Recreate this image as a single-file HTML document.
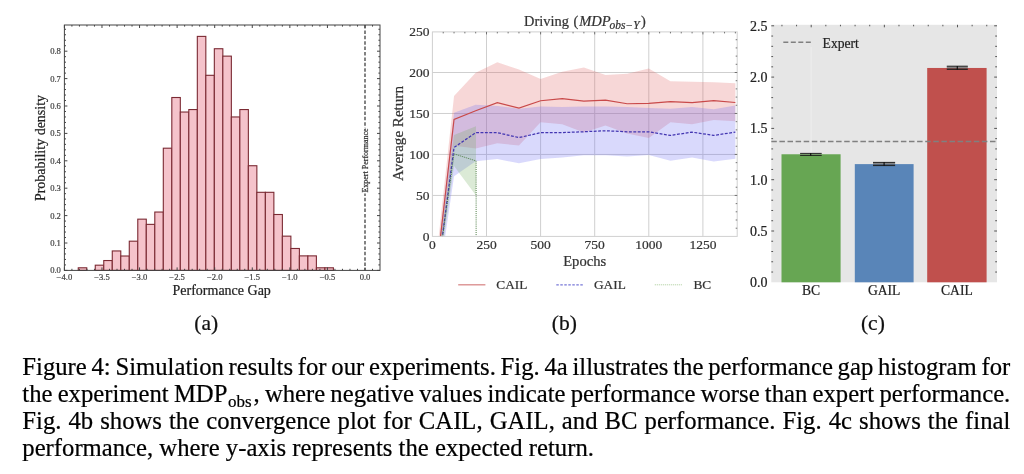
<!DOCTYPE html>
<html><head><meta charset="utf-8"><style>
html,body{margin:0;padding:0;background:#fff;}
body{width:1024px;height:474px;overflow:hidden;position:relative;}
svg{position:absolute;left:0;top:0;}
body>*{filter:blur(0.35px);}
#capbox{position:absolute;left:22.3px;top:0;width:988px;}
.cap{position:absolute;left:0;width:988px;font-family:"Liberation Serif",serif;font-size:24.7px;line-height:30px;color:#000;-webkit-text-stroke:0.22px #000;white-space:nowrap;text-align:justify;text-align-last:justify;word-spacing:-2.5px;}
.cap.last{text-align:left;text-align-last:left;word-spacing:0;}
.cap sub{font-size:17px;vertical-align:baseline;position:relative;top:5px;line-height:0;margin-left:0.5px;margin-right:2px;}
</style></head><body>
<svg width="1024" height="474" viewBox="0 0 1024 474">
<g>
<rect x="78.25" y="267.80" width="8.51" height="2.60" fill="#f5c3cb" stroke="#7b2a33" stroke-width="1.1"/>
<rect x="95.26" y="265.19" width="8.51" height="5.21" fill="#f5c3cb" stroke="#7b2a33" stroke-width="1.1"/>
<rect x="103.77" y="260.54" width="8.51" height="9.86" fill="#f5c3cb" stroke="#7b2a33" stroke-width="1.1"/>
<rect x="112.27" y="250.95" width="8.51" height="19.45" fill="#f5c3cb" stroke="#7b2a33" stroke-width="1.1"/>
<rect x="120.78" y="256.01" width="8.51" height="14.38" fill="#f5c3cb" stroke="#7b2a33" stroke-width="1.1"/>
<rect x="129.28" y="241.19" width="8.51" height="29.21" fill="#f5c3cb" stroke="#7b2a33" stroke-width="1.1"/>
<rect x="137.78" y="219.16" width="8.51" height="51.24" fill="#f5c3cb" stroke="#7b2a33" stroke-width="1.1"/>
<rect x="146.29" y="224.37" width="8.51" height="46.03" fill="#f5c3cb" stroke="#7b2a33" stroke-width="1.1"/>
<rect x="154.80" y="212.04" width="8.51" height="58.36" fill="#f5c3cb" stroke="#7b2a33" stroke-width="1.1"/>
<rect x="163.30" y="148.20" width="8.51" height="122.20" fill="#f5c3cb" stroke="#7b2a33" stroke-width="1.1"/>
<rect x="171.81" y="97.51" width="8.51" height="172.89" fill="#f5c3cb" stroke="#7b2a33" stroke-width="1.1"/>
<rect x="180.31" y="112.03" width="8.51" height="158.37" fill="#f5c3cb" stroke="#7b2a33" stroke-width="1.1"/>
<rect x="188.81" y="109.56" width="8.51" height="160.84" fill="#f5c3cb" stroke="#7b2a33" stroke-width="1.1"/>
<rect x="197.32" y="36.40" width="8.51" height="234.00" fill="#f5c3cb" stroke="#7b2a33" stroke-width="1.1"/>
<rect x="205.83" y="75.31" width="8.51" height="195.09" fill="#f5c3cb" stroke="#7b2a33" stroke-width="1.1"/>
<rect x="214.33" y="48.73" width="8.51" height="221.67" fill="#f5c3cb" stroke="#7b2a33" stroke-width="1.1"/>
<rect x="222.84" y="56.13" width="8.51" height="214.27" fill="#f5c3cb" stroke="#7b2a33" stroke-width="1.1"/>
<rect x="231.34" y="116.96" width="8.51" height="153.44" fill="#f5c3cb" stroke="#7b2a33" stroke-width="1.1"/>
<rect x="239.85" y="109.56" width="8.51" height="160.84" fill="#f5c3cb" stroke="#7b2a33" stroke-width="1.1"/>
<rect x="248.35" y="165.73" width="8.51" height="104.67" fill="#f5c3cb" stroke="#7b2a33" stroke-width="1.1"/>
<rect x="256.86" y="192.31" width="8.51" height="78.09" fill="#f5c3cb" stroke="#7b2a33" stroke-width="1.1"/>
<rect x="265.36" y="192.31" width="8.51" height="78.09" fill="#f5c3cb" stroke="#7b2a33" stroke-width="1.1"/>
<rect x="273.87" y="214.50" width="8.51" height="55.90" fill="#f5c3cb" stroke="#7b2a33" stroke-width="1.1"/>
<rect x="282.37" y="236.15" width="8.51" height="34.25" fill="#f5c3cb" stroke="#7b2a33" stroke-width="1.1"/>
<rect x="290.88" y="248.48" width="8.51" height="21.92" fill="#f5c3cb" stroke="#7b2a33" stroke-width="1.1"/>
<rect x="299.38" y="255.88" width="8.51" height="14.52" fill="#f5c3cb" stroke="#7b2a33" stroke-width="1.1"/>
<rect x="307.88" y="255.88" width="8.51" height="14.52" fill="#f5c3cb" stroke="#7b2a33" stroke-width="1.1"/>
<rect x="316.39" y="267.80" width="8.51" height="2.60" fill="#f5c3cb" stroke="#7b2a33" stroke-width="1.1"/>
<rect x="324.89" y="267.80" width="8.51" height="2.60" fill="#f5c3cb" stroke="#7b2a33" stroke-width="1.1"/>
</g>
<line x1="365.00" y1="25.0" x2="365.00" y2="270.4" stroke="#1e1e1e" stroke-width="1.1" stroke-dasharray="3.5,1.9"/>
<rect x="361.00" y="127.5" width="8" height="66" fill="#fff"/>
<text x="0" y="0" transform="translate(367.60,160.5) rotate(-90)" font-family="'Liberation Serif', serif" font-size="8" fill="#333" stroke="#333" stroke-width="0.22" text-anchor="middle">Expert Performance</text>
<rect x="64.4" y="25.0" width="315.60" height="245.40" fill="none" stroke="#444" stroke-width="1"/>
<path d="M64.40,270.4v-3M64.40,25.0v3M71.91,270.4v-1.6M71.91,25.0v1.6M79.43,270.4v-1.6M79.43,25.0v1.6M86.94,270.4v-1.6M86.94,25.0v1.6M94.46,270.4v-1.6M94.46,25.0v1.6M101.97,270.4v-3M101.97,25.0v3M109.49,270.4v-1.6M109.49,25.0v1.6M117.00,270.4v-1.6M117.00,25.0v1.6M124.52,270.4v-1.6M124.52,25.0v1.6M132.03,270.4v-1.6M132.03,25.0v1.6M139.55,270.4v-3M139.55,25.0v3M147.06,270.4v-1.6M147.06,25.0v1.6M154.58,270.4v-1.6M154.58,25.0v1.6M162.09,270.4v-1.6M162.09,25.0v1.6M169.61,270.4v-1.6M169.61,25.0v1.6M177.12,270.4v-3M177.12,25.0v3M184.64,270.4v-1.6M184.64,25.0v1.6M192.16,270.4v-1.6M192.16,25.0v1.6M199.67,270.4v-1.6M199.67,25.0v1.6M207.19,270.4v-1.6M207.19,25.0v1.6M214.70,270.4v-3M214.70,25.0v3M222.22,270.4v-1.6M222.22,25.0v1.6M229.73,270.4v-1.6M229.73,25.0v1.6M237.25,270.4v-1.6M237.25,25.0v1.6M244.76,270.4v-1.6M244.76,25.0v1.6M252.27,270.4v-3M252.27,25.0v3M259.79,270.4v-1.6M259.79,25.0v1.6M267.31,270.4v-1.6M267.31,25.0v1.6M274.82,270.4v-1.6M274.82,25.0v1.6M282.34,270.4v-1.6M282.34,25.0v1.6M289.85,270.4v-3M289.85,25.0v3M297.37,270.4v-1.6M297.37,25.0v1.6M304.88,270.4v-1.6M304.88,25.0v1.6M312.40,270.4v-1.6M312.40,25.0v1.6M319.91,270.4v-1.6M319.91,25.0v1.6M327.43,270.4v-3M327.43,25.0v3M334.94,270.4v-1.6M334.94,25.0v1.6M342.46,270.4v-1.6M342.46,25.0v1.6M349.97,270.4v-1.6M349.97,25.0v1.6M357.49,270.4v-1.6M357.49,25.0v1.6M365.00,270.4v-3M365.00,25.0v3M372.52,270.4v-1.6M372.52,25.0v1.6M64.4,270.40h3M380.0,270.40h-3M64.4,264.92h1.6M380.0,264.92h-1.6M64.4,259.44h1.6M380.0,259.44h-1.6M64.4,253.96h1.6M380.0,253.96h-1.6M64.4,248.48h1.6M380.0,248.48h-1.6M64.4,243.00h3M380.0,243.00h-3M64.4,237.52h1.6M380.0,237.52h-1.6M64.4,232.04h1.6M380.0,232.04h-1.6M64.4,226.56h1.6M380.0,226.56h-1.6M64.4,221.08h1.6M380.0,221.08h-1.6M64.4,215.60h3M380.0,215.60h-3M64.4,210.12h1.6M380.0,210.12h-1.6M64.4,204.64h1.6M380.0,204.64h-1.6M64.4,199.16h1.6M380.0,199.16h-1.6M64.4,193.68h1.6M380.0,193.68h-1.6M64.4,188.20h3M380.0,188.20h-3M64.4,182.72h1.6M380.0,182.72h-1.6M64.4,177.24h1.6M380.0,177.24h-1.6M64.4,171.76h1.6M380.0,171.76h-1.6M64.4,166.28h1.6M380.0,166.28h-1.6M64.4,160.80h3M380.0,160.80h-3M64.4,155.32h1.6M380.0,155.32h-1.6M64.4,149.84h1.6M380.0,149.84h-1.6M64.4,144.36h1.6M380.0,144.36h-1.6M64.4,138.88h1.6M380.0,138.88h-1.6M64.4,133.40h3M380.0,133.40h-3M64.4,127.92h1.6M380.0,127.92h-1.6M64.4,122.44h1.6M380.0,122.44h-1.6M64.4,116.96h1.6M380.0,116.96h-1.6M64.4,111.48h1.6M380.0,111.48h-1.6M64.4,106.00h3M380.0,106.00h-3M64.4,100.52h1.6M380.0,100.52h-1.6M64.4,95.04h1.6M380.0,95.04h-1.6M64.4,89.56h1.6M380.0,89.56h-1.6M64.4,84.08h1.6M380.0,84.08h-1.6M64.4,78.60h3M380.0,78.60h-3M64.4,73.12h1.6M380.0,73.12h-1.6M64.4,67.64h1.6M380.0,67.64h-1.6M64.4,62.16h1.6M380.0,62.16h-1.6M64.4,56.68h1.6M380.0,56.68h-1.6M64.4,51.20h3M380.0,51.20h-3M64.4,45.72h1.6M380.0,45.72h-1.6M64.4,40.24h1.6M380.0,40.24h-1.6M64.4,34.76h1.6M380.0,34.76h-1.6M64.4,29.28h1.6M380.0,29.28h-1.6" stroke="#444" stroke-width="1" fill="none"/>
<text x="64.40" y="280.3" font-family="'Liberation Serif', serif" font-size="8.6" fill="#444" stroke="#444" stroke-width="0.22" text-anchor="middle">−4.0</text>
<text x="101.97" y="280.3" font-family="'Liberation Serif', serif" font-size="8.6" fill="#444" stroke="#444" stroke-width="0.22" text-anchor="middle">−3.5</text>
<text x="139.55" y="280.3" font-family="'Liberation Serif', serif" font-size="8.6" fill="#444" stroke="#444" stroke-width="0.22" text-anchor="middle">−3.0</text>
<text x="177.12" y="280.3" font-family="'Liberation Serif', serif" font-size="8.6" fill="#444" stroke="#444" stroke-width="0.22" text-anchor="middle">−2.5</text>
<text x="214.70" y="280.3" font-family="'Liberation Serif', serif" font-size="8.6" fill="#444" stroke="#444" stroke-width="0.22" text-anchor="middle">−2.0</text>
<text x="252.27" y="280.3" font-family="'Liberation Serif', serif" font-size="8.6" fill="#444" stroke="#444" stroke-width="0.22" text-anchor="middle">−1.5</text>
<text x="289.85" y="280.3" font-family="'Liberation Serif', serif" font-size="8.6" fill="#444" stroke="#444" stroke-width="0.22" text-anchor="middle">−1.0</text>
<text x="327.43" y="280.3" font-family="'Liberation Serif', serif" font-size="8.6" fill="#444" stroke="#444" stroke-width="0.22" text-anchor="middle">−0.5</text>
<text x="365.00" y="280.3" font-family="'Liberation Serif', serif" font-size="8.6" fill="#444" stroke="#444" stroke-width="0.22" text-anchor="middle">0.0</text>
<text x="60.9" y="273.40" font-family="'Liberation Serif', serif" font-size="8.6" fill="#444" stroke="#444" stroke-width="0.22" text-anchor="end">0.0</text>
<text x="60.9" y="246.00" font-family="'Liberation Serif', serif" font-size="8.6" fill="#444" stroke="#444" stroke-width="0.22" text-anchor="end">0.1</text>
<text x="60.9" y="218.60" font-family="'Liberation Serif', serif" font-size="8.6" fill="#444" stroke="#444" stroke-width="0.22" text-anchor="end">0.2</text>
<text x="60.9" y="191.20" font-family="'Liberation Serif', serif" font-size="8.6" fill="#444" stroke="#444" stroke-width="0.22" text-anchor="end">0.3</text>
<text x="60.9" y="163.80" font-family="'Liberation Serif', serif" font-size="8.6" fill="#444" stroke="#444" stroke-width="0.22" text-anchor="end">0.4</text>
<text x="60.9" y="136.40" font-family="'Liberation Serif', serif" font-size="8.6" fill="#444" stroke="#444" stroke-width="0.22" text-anchor="end">0.5</text>
<text x="60.9" y="109.00" font-family="'Liberation Serif', serif" font-size="8.6" fill="#444" stroke="#444" stroke-width="0.22" text-anchor="end">0.6</text>
<text x="60.9" y="81.60" font-family="'Liberation Serif', serif" font-size="8.6" fill="#444" stroke="#444" stroke-width="0.22" text-anchor="end">0.7</text>
<text x="60.9" y="54.20" font-family="'Liberation Serif', serif" font-size="8.6" fill="#444" stroke="#444" stroke-width="0.22" text-anchor="end">0.8</text>
<text x="221.7" y="294.8" font-family="'Liberation Serif', serif" font-size="14" fill="#222" stroke="#222" stroke-width="0.22" text-anchor="middle">Performance Gap</text>
<text x="0" y="0" transform="translate(45,148) rotate(-90)" font-family="'Liberation Serif', serif" font-size="14" fill="#222" stroke="#222" stroke-width="0.22" text-anchor="middle">Probability density</text>
<defs><clipPath id="cb"><rect x="432.40" y="31.90" width="304.80" height="204.50"/></clipPath></defs>
<path d="M486.50,31.9V236.4M540.60,31.9V236.4M594.70,31.9V236.4M648.80,31.9V236.4M702.90,31.9V236.4M432.4,195.43H737.2M432.4,154.45H737.2M432.4,113.48H737.2M432.4,72.50H737.2" stroke="#cfcfcf" stroke-width="1" fill="none"/>
<g clip-path="url(#cb)">
<path d="M432.40,294.08L454.04,95.99L475.68,72.67L497.32,62.21L518.96,69.62L540.60,79.02L562.24,71.68L583.88,67.48L605.52,74.90L627.16,73.82L648.80,68.47L670.44,81.16L692.08,81.82L713.72,82.23L735.36,83.30L735.36,121.20L713.72,119.97L692.08,124.34L670.44,122.28L648.80,138.10L627.16,133.40L605.52,125.41L583.88,132.58L562.24,124.34L540.60,122.19L518.96,145.43L497.32,143.29L475.68,148.48L454.04,145.76L432.40,318.80Z" fill="rgb(225,95,95)" fill-opacity="0.25"/>
<path d="M432.40,302.32L454.04,112.80L475.68,104.81L497.32,105.88L518.96,108.68L540.60,106.54L562.24,107.03L583.88,106.54L605.52,106.54L627.16,107.03L648.80,108.02L670.44,108.68L692.08,107.03L713.72,109.17L735.36,105.38L735.36,158.70L713.72,161.58L692.08,157.38L670.44,160.84L648.80,154.91L627.16,156.55L605.52,155.32L583.88,155.32L562.24,157.38L540.60,159.11L518.96,163.31L497.32,159.11L475.68,161.17L454.04,176.25L432.40,323.74Z" fill="rgb(105,105,245)" fill-opacity="0.25"/>
<path d="M432.40,301.96L454.04,134.95L476.00,126.18L476.44,1875.40L476.44,1875.40L476.00,195.43L454.04,165.92L432.40,318.35Z" fill="rgb(110,170,90)" fill-opacity="0.25"/>
<path d="M432.40,306.44L454.04,119.39L475.68,110.74L497.32,102.66L518.96,108.02L540.60,100.77L562.24,98.71L583.88,101.18L605.52,100.19L627.16,103.74L648.80,103.32L670.44,101.59L692.08,102.66L713.72,100.60L735.36,102.50" stroke="#c94a4a" stroke-width="1.2" fill="none"/>
<path d="M432.40,313.03L454.04,147.49L475.68,132.66L497.32,132.66L518.96,137.60L540.60,132.66L562.24,132.58L583.88,131.75L605.52,130.76L627.16,131.75L648.80,131.75L670.44,135.38L692.08,132.16L713.72,135.38L735.36,132.16" stroke="#4336b2" stroke-width="1.25" fill="none" stroke-dasharray="2.9,1.5"/>
<path d="M432.40,310.15L454.04,153.88L476.11,160.92L476.11,1875.40" stroke="#4a7a40" stroke-width="1" fill="none" stroke-dasharray="1,1.1"/>
</g>
<rect x="432.4" y="31.9" width="304.80" height="204.50" fill="none" stroke="#d0d0d0" stroke-width="1"/>
<path d="M443.22,31.9v1.5M454.04,31.9v1.5M464.86,31.9v1.5M475.68,31.9v1.5M486.50,31.9v2.5M497.32,31.9v1.5M508.14,31.9v1.5M518.96,31.9v1.5M529.78,31.9v1.5M540.60,31.9v2.5M551.42,31.9v1.5M562.24,31.9v1.5M573.06,31.9v1.5M583.88,31.9v1.5M594.70,31.9v2.5M605.52,31.9v1.5M616.34,31.9v1.5M627.16,31.9v1.5M637.98,31.9v1.5M648.80,31.9v2.5M659.62,31.9v1.5M670.44,31.9v1.5M681.26,31.9v1.5M692.08,31.9v1.5M702.90,31.9v2.5M713.72,31.9v1.5M724.54,31.9v1.5M735.36,31.9v1.5M737.2,228.21h-1.5M737.2,220.01h-1.5M737.2,211.81h-1.5M737.2,203.62h-1.5M737.2,195.43h-2.5M737.2,187.23h-1.5M737.2,179.03h-1.5M737.2,170.84h-1.5M737.2,162.65h-1.5M737.2,154.45h-2.5M737.2,146.25h-1.5M737.2,138.06h-1.5M737.2,129.87h-1.5M737.2,121.67h-1.5M737.2,113.48h-2.5M737.2,105.28h-1.5M737.2,97.09h-1.5M737.2,88.89h-1.5M737.2,80.69h-1.5M737.2,72.50h-2.5M737.2,64.31h-1.5M737.2,56.11h-1.5M737.2,47.91h-1.5M737.2,39.72h-1.5" stroke="#666" stroke-width="0.9" fill="none"/>
<text x="432.40" y="248.8" font-family="'Liberation Serif', serif" font-size="13.5" fill="#333" stroke="#333" stroke-width="0.22" text-anchor="middle">0</text>
<text x="486.50" y="248.8" font-family="'Liberation Serif', serif" font-size="13.5" fill="#333" stroke="#333" stroke-width="0.22" text-anchor="middle">250</text>
<text x="540.60" y="248.8" font-family="'Liberation Serif', serif" font-size="13.5" fill="#333" stroke="#333" stroke-width="0.22" text-anchor="middle">500</text>
<text x="594.70" y="248.8" font-family="'Liberation Serif', serif" font-size="13.5" fill="#333" stroke="#333" stroke-width="0.22" text-anchor="middle">750</text>
<text x="648.80" y="248.8" font-family="'Liberation Serif', serif" font-size="13.5" fill="#333" stroke="#333" stroke-width="0.22" text-anchor="middle">1000</text>
<text x="702.90" y="248.8" font-family="'Liberation Serif', serif" font-size="13.5" fill="#333" stroke="#333" stroke-width="0.22" text-anchor="middle">1250</text>
<text x="429.5" y="241.00" font-family="'Liberation Serif', serif" font-size="13.5" fill="#333" stroke="#333" stroke-width="0.22" text-anchor="end">0</text>
<text x="429.5" y="200.03" font-family="'Liberation Serif', serif" font-size="13.5" fill="#333" stroke="#333" stroke-width="0.22" text-anchor="end">50</text>
<text x="429.5" y="159.05" font-family="'Liberation Serif', serif" font-size="13.5" fill="#333" stroke="#333" stroke-width="0.22" text-anchor="end">100</text>
<text x="429.5" y="118.08" font-family="'Liberation Serif', serif" font-size="13.5" fill="#333" stroke="#333" stroke-width="0.22" text-anchor="end">150</text>
<text x="429.5" y="77.10" font-family="'Liberation Serif', serif" font-size="13.5" fill="#333" stroke="#333" stroke-width="0.22" text-anchor="end">200</text>
<text x="429.5" y="36.13" font-family="'Liberation Serif', serif" font-size="13.5" fill="#333" stroke="#333" stroke-width="0.22" text-anchor="end">250</text>
<text x="584.7" y="265.8" font-family="'Liberation Serif', serif" font-size="14.6" fill="#333" stroke="#333" stroke-width="0.22" text-anchor="middle">Epochs</text>
<text x="0" y="0" transform="translate(403,133.5) rotate(-90)" font-family="'Liberation Serif', serif" font-size="15.1" fill="#333" stroke="#333" stroke-width="0.22" text-anchor="middle">Average Return</text>
<text x="524.1" y="25.9" font-family="'Liberation Serif', serif" font-size="14.4" fill="#333" stroke="#333" stroke-width="0.22">Driving</text>
<text x="573.4" y="25.9" font-family="'Liberation Serif', serif" font-size="14.4" fill="#333" stroke="#333" stroke-width="0.22">(</text>
<text x="579.2" y="25.9" font-family="'Liberation Serif', serif" font-size="14.6" font-style="italic" fill="#333" stroke="#333" stroke-width="0.22" textLength="31.5" lengthAdjust="spacingAndGlyphs">MDP</text>
<text x="609.6" y="28.6" font-family="'Liberation Serif', serif" font-size="11.5" font-style="italic" fill="#333" stroke="#333" stroke-width="0.22" textLength="30" lengthAdjust="spacingAndGlyphs">obs−Y</text>
<text x="640.9" y="25.9" font-family="'Liberation Serif', serif" font-size="14.4" fill="#333" stroke="#333" stroke-width="0.22">)</text>
<line x1="458.2" y1="284.8" x2="485.4" y2="284.8" stroke="#d98a8a" stroke-width="1.3"/>
<line x1="556.3" y1="284.8" x2="583.6" y2="284.8" stroke="#7878d8" stroke-width="1.2" stroke-dasharray="2.5,1.5"/>
<line x1="654.8" y1="284.8" x2="682" y2="284.8" stroke="#a8cc98" stroke-width="1" stroke-dasharray="1,1"/>
<text x="496.3" y="289.2" font-family="'Liberation Serif', serif" font-size="13.3" fill="#333" stroke="#333" stroke-width="0.22">CAIL</text>
<text x="594.0" y="289.2" font-family="'Liberation Serif', serif" font-size="13.3" fill="#333" stroke="#333" stroke-width="0.22">GAIL</text>
<text x="693.4" y="289.2" font-family="'Liberation Serif', serif" font-size="13.3" fill="#333" stroke="#333" stroke-width="0.22">BC</text>
<rect x="771.3" y="24.8" width="225.70" height="257.50" fill="#e6e6e6"/>
<line x1="811.2" y1="47" x2="811.2" y2="282.3" stroke="#eeeeee" stroke-width="1"/>
<rect x="781.5" y="154.26" width="59.10" height="128.04" fill="#67a653"/>
<rect x="854.8" y="164.10" width="58.80" height="118.20" fill="#5985b8"/>
<rect x="927.2" y="67.97" width="59.40" height="214.33" fill="#c0504d"/>
<rect x="800.1" y="153.4" width="21.60" height="2.00" fill="#4a4a4a" fill-opacity="0.15"/>
<path d="M800.1,153.4H821.7M800.1,155.4H821.7" stroke="#1a1a1a" stroke-width="0.95" fill="none"/>
<line x1="810.7" y1="153.1" x2="810.7" y2="155.70000000000002" stroke="#111" stroke-width="1.2"/>
<rect x="873.0" y="162.4" width="22.10" height="3.20" fill="#4a4a4a" fill-opacity="0.6"/>
<path d="M873.0,162.4H895.1M873.0,165.6H895.1" stroke="#1a1a1a" stroke-width="0.95" fill="none"/>
<line x1="884.1" y1="162.1" x2="884.1" y2="165.9" stroke="#111" stroke-width="1.2"/>
<rect x="946.8" y="66.2" width="21.00" height="3.20" fill="#4a4a4a" fill-opacity="0.6"/>
<path d="M946.8,66.2H967.8M946.8,69.4H967.8" stroke="#1a1a1a" stroke-width="0.95" fill="none"/>
<line x1="957.3" y1="65.9" x2="957.3" y2="69.7" stroke="#111" stroke-width="1.2"/>
<line x1="771.3" y1="141.5" x2="997.0" y2="141.5" stroke="#808080" stroke-width="1.5" stroke-dasharray="5.5,2.6"/>
<line x1="783.3" y1="42.3" x2="811.8" y2="42.3" stroke="#808080" stroke-width="1.5" stroke-dasharray="5,2.5"/>
<text x="822.6" y="47.6" font-family="'Liberation Serif', serif" font-size="13.6" fill="#222" stroke="#222" stroke-width="0.22">Expert</text>
<path d="M781.94,24.8v1.5M796.57,24.8v1.5M811.20,24.8v2.5M825.83,24.8v1.5M840.46,24.8v1.5M855.09,24.8v1.5M869.72,24.8v1.5M884.35,24.8v2.5M898.98,24.8v1.5M913.61,24.8v1.5M928.24,24.8v1.5M942.87,24.8v1.5M957.50,24.8v2.5M972.13,24.8v1.5M986.76,24.8v1.5M771.3,272.04h1.8M997.0,272.04h-1.8M771.3,261.78h1.8M997.0,261.78h-1.8M771.3,251.52h1.8M997.0,251.52h-1.8M771.3,241.26h1.8M997.0,241.26h-1.8M771.3,231.00h2.8M997.0,231.00h-2.8M771.3,220.74h1.8M997.0,220.74h-1.8M771.3,210.48h1.8M997.0,210.48h-1.8M771.3,200.22h1.8M997.0,200.22h-1.8M771.3,189.96h1.8M997.0,189.96h-1.8M771.3,179.70h2.8M997.0,179.70h-2.8M771.3,169.44h1.8M997.0,169.44h-1.8M771.3,159.18h1.8M997.0,159.18h-1.8M771.3,148.92h1.8M997.0,148.92h-1.8M771.3,138.66h1.8M997.0,138.66h-1.8M771.3,128.40h2.8M997.0,128.40h-2.8M771.3,118.14h1.8M997.0,118.14h-1.8M771.3,107.88h1.8M997.0,107.88h-1.8M771.3,97.62h1.8M997.0,97.62h-1.8M771.3,87.36h1.8M997.0,87.36h-1.8M771.3,77.10h2.8M997.0,77.10h-2.8M771.3,66.84h1.8M997.0,66.84h-1.8M771.3,56.58h1.8M997.0,56.58h-1.8M771.3,46.32h1.8M997.0,46.32h-1.8M771.3,36.06h1.8M997.0,36.06h-1.8M771.3,25.80h2.8M997.0,25.80h-2.8" stroke="#444" stroke-width="0.9" fill="none"/>
<text x="767.6" y="287.10" font-family="'Liberation Serif', serif" font-size="14" fill="#222" stroke="#222" stroke-width="0.22" text-anchor="end">0.0</text>
<text x="767.6" y="235.80" font-family="'Liberation Serif', serif" font-size="14" fill="#222" stroke="#222" stroke-width="0.22" text-anchor="end">0.5</text>
<text x="767.6" y="184.50" font-family="'Liberation Serif', serif" font-size="14" fill="#222" stroke="#222" stroke-width="0.22" text-anchor="end">1.0</text>
<text x="767.6" y="133.20" font-family="'Liberation Serif', serif" font-size="14" fill="#222" stroke="#222" stroke-width="0.22" text-anchor="end">1.5</text>
<text x="767.6" y="81.90" font-family="'Liberation Serif', serif" font-size="14" fill="#222" stroke="#222" stroke-width="0.22" text-anchor="end">2.0</text>
<text x="767.6" y="30.60" font-family="'Liberation Serif', serif" font-size="14" fill="#222" stroke="#222" stroke-width="0.22" text-anchor="end">2.5</text>
<text x="811.05" y="295.2" font-family="'Liberation Serif', serif" font-size="13.6" fill="#222" stroke="#222" stroke-width="0.22" text-anchor="middle">BC</text>
<text x="884.20" y="295.2" font-family="'Liberation Serif', serif" font-size="13.6" fill="#222" stroke="#222" stroke-width="0.22" text-anchor="middle">GAIL</text>
<text x="956.90" y="295.2" font-family="'Liberation Serif', serif" font-size="13.6" fill="#222" stroke="#222" stroke-width="0.22" text-anchor="middle">CAIL</text>
<text x="206.2" y="330" font-family="'Liberation Serif', serif" font-size="21.5" fill="#111" stroke="#111" stroke-width="0.22" text-anchor="middle">(a)</text>
<text x="564.4" y="330" font-family="'Liberation Serif', serif" font-size="21.5" fill="#111" stroke="#111" stroke-width="0.22" text-anchor="middle">(b)</text>
<text x="872.9" y="330" font-family="'Liberation Serif', serif" font-size="21.5" fill="#111" stroke="#111" stroke-width="0.22" text-anchor="middle">(c)</text>
</svg>
<div id="capbox" style="top:351.7px">
<div class="cap" style="top:0px">Figure 4: Simulation results for our experiments. Fig. 4a illustrates the performance gap histogram for</div>
<div class="cap" style="top:27.1px">the experiment MDP<sub>obs</sub>, where negative values indicate performance worse than expert performance.</div>
<div class="cap" style="top:54.2px">Fig. 4b shows the convergence plot for CAIL, GAIL, and BC performance. Fig. 4c shows the final</div>
<div class="cap last" style="top:81.3px">performance, where y-axis represents the expected return.</div>
</div>
</body></html>
